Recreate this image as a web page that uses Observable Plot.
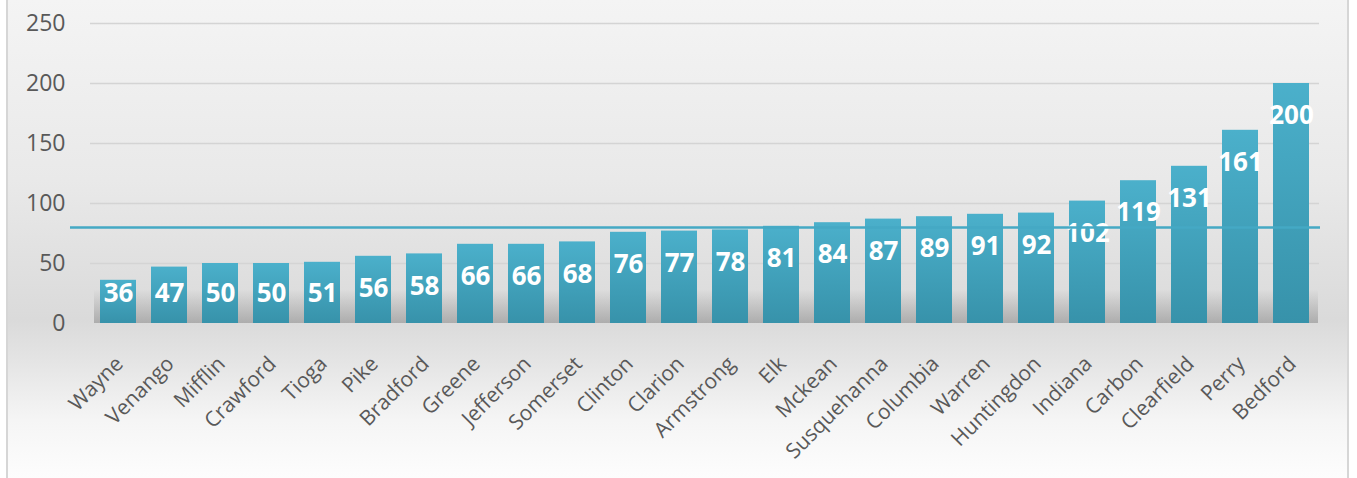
<!DOCTYPE html>
<html>
<head>
<meta charset="utf-8">
<script src="https://cdn.jsdelivr.net/npm/d3@7"></script>
<script src="https://cdn.jsdelivr.net/npm/@observablehq/plot@0.6"></script>
<style>
  html, body { margin: 0; padding: 0; background: #fff; }
  #wrap { position: relative; width: 1357px; height: 478px; overflow: hidden; }
  #bg { position: absolute; left: 6px; top: 0; width: 1343px; height: 478px;
        border-left: 2px solid #d6d6d6; border-right: 2px solid #d6d6d6; box-sizing: border-box;
        background: linear-gradient(to bottom, #f4f4f4 0px, #e9e9e9 180px, #dadada 320px, #e4e4e4 360px, #f5f5f5 420px, #fdfdfd 478px); }
  #chart { position: absolute; left: 0; top: 0; }
  #chart svg { background: transparent; overflow: visible; }
</style>
</head>
<body>
<svg width="0" height="0" style="position:absolute">
  <defs>
    <linearGradient id="barGrad" x1="0" y1="0" x2="0" y2="1">
      <stop offset="0%" stop-color="#4bb0cb"/>
      <stop offset="100%" stop-color="#3792aa"/>
    </linearGradient>
    <linearGradient id="shadowGrad" x1="0" y1="0" x2="0" y2="1">
      <stop offset="0%" stop-color="#808080" stop-opacity="0"/>
      <stop offset="100%" stop-color="#808080" stop-opacity="0.5"/>
    </linearGradient>
  </defs>
</svg>
<div id="wrap">
  <div id="bg"></div>
  <div id="chart"></div>
</div>
<script>
const counties = ["Wayne","Venango","Mifflin","Crawford","Tioga","Pike","Bradford","Greene","Jefferson","Somerset","Clinton","Clarion","Armstrong","Elk","Mckean","Susquehanna","Columbia","Warren","Huntingdon","Indiana","Carbon","Clearfield","Perry","Bedford"];
const values = [36,47,50,50,51,56,58,66,66,68,76,77,78,81,84,87,89,91,92,102,119,131,161,200];
const yTicks = [0,50,100,150,200,250];
const gridTicks = [50,100,150,200,250];
const referenceValue = 80;

const data = counties.map((c, i) => ({county: c, value: values[i]}));

const chart = Plot.plot({
  width: 1357,
  height: 478,
  marginTop: 23,
  marginBottom: 155,
  marginLeft: 90,
  marginRight: 38,
  style: {fontFamily: "'Open Sans', sans-serif", background: "transparent", color: "#595959"},
  x: {domain: counties, paddingInner: 0.29, paddingOuter: 0.155, label: null},
  y: {domain: [0, 250], label: null},
  marks: [
    Plot.ruleY(gridTicks, {stroke: "#d4d4d4", strokeWidth: 1.5}),
    Plot.barY(data, {x: "county", y: () => 28, fill: "url(#shadowGrad)", insetLeft: -6, insetRight: -9}),
    Plot.barY(data, {x: "county", y: "value", fill: "url(#barGrad)"}),
    Plot.text(data, {x: "county", y: d => Math.max(d.value - 27, 25), text: d => String(d.value),
      fill: "white", fontWeight: "bold", fontSize: 26, textAnchor: "middle", lineAnchor: "middle"}),
    Plot.ruleY([referenceValue], {stroke: "#45a9c4", strokeWidth: 2.5, insetLeft: -20, insetRight: -1}),
    Plot.axisY({ticks: yTicks, tickSize: 0, tickPadding: 25, fontSize: 23, label: null, fill: "#595959"}),
    Plot.axisX({tickSize: 0, tickRotate: -45, fontSize: 21, label: null, fill: "#595959", dx: 1, dy: 25})
  ]
});
document.getElementById("chart").appendChild(chart);
</script>
</body>
</html>
